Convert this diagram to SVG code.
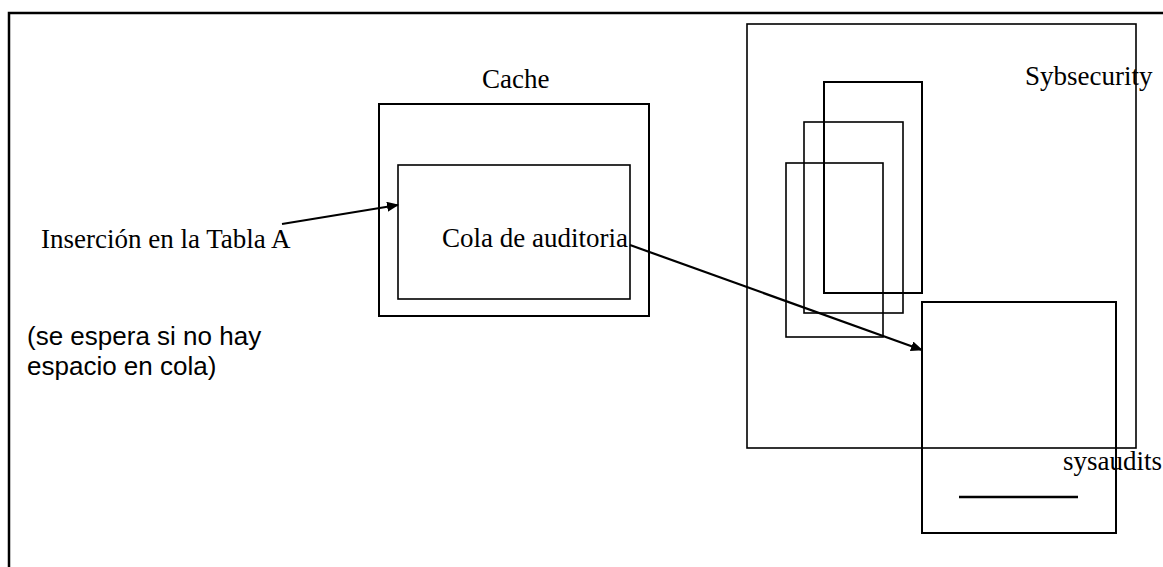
<svg xmlns="http://www.w3.org/2000/svg" width="1163" height="567" viewBox="0 0 1163 567">
<style>
.serif{font-family:"Liberation Serif","Times New Roman",serif;font-size:27px;fill:#000}
.sans{font-family:"Liberation Sans",Arial,sans-serif;font-size:26px;fill:#000}
.box{fill:none;stroke:#000;stroke-width:2}
.thin{fill:none;stroke:#000;stroke-width:1.6}
.conn{fill:none;stroke:#000;stroke-width:2.2}
</style>
<defs>
<marker id="ah" markerWidth="12" markerHeight="10" refX="11" refY="5" orient="auto" markerUnits="userSpaceOnUse">
<path d="M0,0 L12,5 L0,10 Z" fill="#000"/>
</marker>
</defs>
<rect width="1163" height="567" fill="#fff"/>
<g id="frame"><path d="M9,567 V13 H1163" fill="none" stroke="#000" stroke-width="2.5"/></g>
<g id="cache">
<rect class="box" x="379" y="104" width="270" height="212"/>
<text class="serif" x="482" y="88">Cache</text>
</g>
<g id="cola">
<rect class="thin" x="398" y="165" width="232" height="134"/>
<text class="serif" x="628" y="247" text-anchor="end">Cola de auditoria</text>
</g>
<g id="insercion">
<text class="serif" x="41" y="248">Inserción en la Tabla A</text>
</g>
<g id="nota">
<text class="sans" x="27" y="345">(se espera si no hay</text>
<text class="sans" x="27" y="375">espacio en cola)</text>
</g>
<g id="sybsecurity">
<rect class="thin" x="747" y="24" width="389" height="424"/>
<text class="serif" x="1025" y="85">Sybsecurity</text>
</g>
<g id="pages">
<rect class="box" x="824" y="82" width="98" height="211"/>
<rect class="thin" x="804" y="122" width="99" height="191"/>
<rect class="thin" x="786" y="163" width="97" height="174"/>
</g>
<g id="sysaudits">
<rect class="box" x="922" y="302" width="194" height="231"/>
<line x1="959" y1="497" x2="1078" y2="497" stroke="#000" stroke-width="2.5"/>
<text class="serif" x="1063" y="470">sysaudits</text>
</g>
<g id="connectors">
<line class="conn" x1="282" y1="224" x2="398" y2="205" marker-end="url(#ah)"/>
<line class="conn" x1="630" y1="245" x2="922" y2="350" marker-end="url(#ah)"/>
</g>
</svg>
